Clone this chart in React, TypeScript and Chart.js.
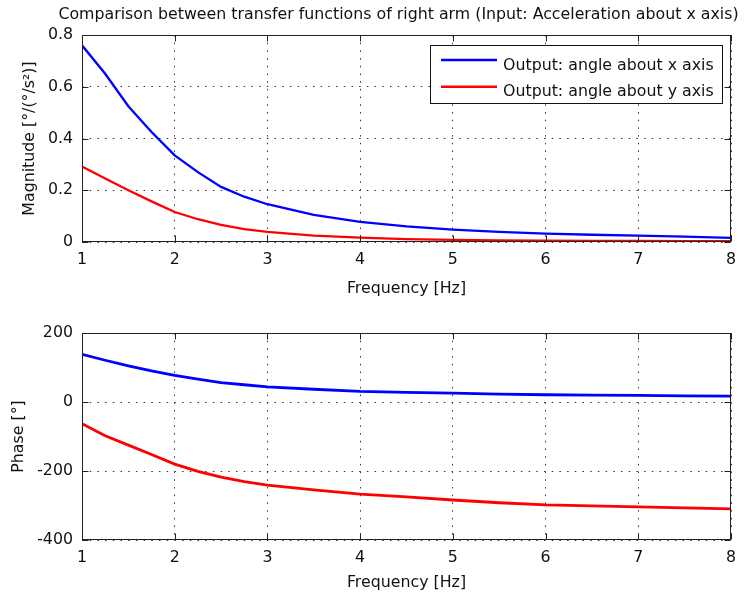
import React, { useEffect, useRef } from "react";
import { Chart, registerables } from "chart.js";

Chart.register(...registerables);

// ---- data ----
const FREQ = [1, 1.25, 1.5, 1.75, 2, 2.25, 2.5, 2.75, 3, 3.5, 4, 4.5, 5, 5.5, 6, 6.5, 7, 7.5, 8];
const MAG_X = [0.76, 0.65, 0.525, 0.425, 0.335, 0.27, 0.213, 0.175, 0.146, 0.105, 0.078, 0.06, 0.048, 0.039, 0.032, 0.028, 0.025, 0.021, 0.016];
const MAG_Y = [0.292, 0.245, 0.2, 0.157, 0.116, 0.088, 0.066, 0.05, 0.039, 0.025, 0.017, 0.011, 0.008, 0.006, 0.005, 0.004, 0.004, 0.003, 0.003];
const PHASE_X = [138, 121, 105, 90, 77, 66, 56, 50, 44, 37, 31, 28, 26, 23, 21, 20, 19, 18, 17];
const PHASE_Y = [-63, -98, -125, -152, -180, -201, -218, -231, -241, -255, -267, -275, -284, -292, -298, -301, -304, -307, -310];

const X_TICKS = [1, 2, 3, 4, 5, 6, 7, 8];
const MAG_TICKS = [0, 0.2, 0.4, 0.6, 0.8];
const PHASE_TICKS = [-400, -200, 0, 200];

const TITLE = "Comparison between transfer functions of right arm (Input: Acceleration about x axis)";
const X_TITLE = "Frequency [Hz]";
const MAG_TITLE = "Magnitude [°/(°/s²)]";
const PHASE_TITLE = "Phase [°]";
const SERIES_LABELS = ["Output: angle about x axis", "Output: angle about y axis"];
const SERIES_COLORS = ["#0000ff", "#ff0000"];

const FAMILY = '"DejaVu Sans", sans-serif';
const FSIZE = 15.8;
const TEXT = "#111";

function makeBoxPlugin(id: string, xTicks: number[], yTicks: number[]) {
  return {
    id,
    afterDraw(chart: any) {
      const { ctx, chartArea } = chart;
      const xs = chart.scales.x;
      const ys = chart.scales.y;
      const L = Math.round(chartArea.left) + 0.5;
      const R = Math.round(chartArea.right) - 0.5;
      const T = Math.round(chartArea.top) + 0.5;
      const B = Math.round(chartArea.bottom) - 0.5;
      ctx.save();
      ctx.strokeStyle = "#222";
      ctx.lineWidth = 1;
      ctx.setLineDash([]);
      ctx.beginPath();
      const tl = 6;
      xTicks.forEach((v) => {
        const px = Math.round(xs.getPixelForValue(v)) + 0.5;
        ctx.moveTo(px, B);
        ctx.lineTo(px, B - tl);
        ctx.moveTo(px, T);
        ctx.lineTo(px, T + tl);
      });
      yTicks.forEach((v) => {
        const py = Math.round(ys.getPixelForValue(v)) + 0.5;
        ctx.moveTo(L, py);
        ctx.lineTo(L + tl, py);
        ctx.moveTo(R, py);
        ctx.lineTo(R - tl, py);
      });
      ctx.stroke();
      ctx.strokeRect(L, T, R - L, B - T);
      ctx.restore();
    },
  };
}

const titlePlugin = {
  id: "matlabTitle",
  afterDraw(chart: any) {
    const { ctx } = chart;
    ctx.save();
    ctx.fillStyle = TEXT;
    ctx.font = `${FSIZE}px ${FAMILY}`;
    ctx.textAlign = "center";
    ctx.textBaseline = "middle";
    ctx.fillText(TITLE, 398.5, 14.5);
    ctx.restore();
  },
};

const legendPlugin = {
  id: "matlabLegend",
  afterDraw(chart: any) {
    const { ctx } = chart;
    const bx = 430.5, by = 45.5, bw = 292, bh = 58;
    ctx.save();
    ctx.fillStyle = "#fff";
    ctx.fillRect(bx, by, bw, bh);
    ctx.strokeStyle = "#111";
    ctx.lineWidth = 1;
    ctx.strokeRect(bx, by, bw, bh);
    chart.data.datasets.forEach((ds: any, i: number) => {
      const ly = 60 + i * 26.7;
      ctx.strokeStyle = ds.borderColor;
      ctx.lineWidth = 2.5;
      ctx.beginPath();
      ctx.moveTo(441, ly);
      ctx.lineTo(497, ly);
      ctx.stroke();
      ctx.fillStyle = TEXT;
      ctx.font = `${FSIZE}px ${FAMILY}`;
      ctx.textAlign = "left";
      ctx.textBaseline = "alphabetic";
      ctx.fillText(ds.label, 503, 70 + i * 26);
    });
    ctx.restore();
  },
};

function buildConfig(p: {
  a: number[];
  b: number[];
  yMin: number;
  yMax: number;
  yTicks: number[];
  yTitle: string;
  yTitlePad: number;
  padTop: number;
  xHeight: number;
  xTitlePadBottom: number;
  width: number;
  plugins: any[];
}): any {
  const font = { family: FAMILY, size: FSIZE };
  const mk = (arr: number[], i: number) => ({
    label: SERIES_LABELS[i],
    data: FREQ.map((f, k) => ({ x: f, y: arr[k] })),
    borderColor: SERIES_COLORS[i],
    backgroundColor: SERIES_COLORS[i],
    borderWidth: p.width,
    pointRadius: 0,
    tension: 0,
    fill: false,
  });
  return {
    type: "line",
    data: { datasets: [mk(p.a, 0), mk(p.b, 1)] },
    options: {
      responsive: false,
      animation: false,
      events: [],
      layout: { padding: { top: p.padTop, right: 16, left: 0, bottom: 0 } },
      plugins: { legend: { display: false }, tooltip: { enabled: false }, title: { display: false } },
      scales: {
        x: {
          type: "linear",
          min: 1,
          max: 8,
          afterBuildTicks: (s: any) => {
            s.ticks = X_TICKS.map((v) => ({ value: v }));
          },
          afterFit: (s: any) => {
            s.height = p.xHeight;
          },
          ticks: { font, color: TEXT, padding: 8, maxRotation: 0, autoSkip: false },
          grid: { color: "#333", lineWidth: 1, drawTicks: false, borderDash: [1.5, 6.2] },
          border: { display: false, dash: [1.5, 6.2] },
          title: { display: true, text: X_TITLE, font, color: TEXT, padding: { top: 0, bottom: p.xTitlePadBottom } },
        },
        y: {
          type: "linear",
          min: p.yMin,
          max: p.yMax,
          afterBuildTicks: (s: any) => {
            s.ticks = p.yTicks.map((v) => ({ value: v }));
          },
          afterFit: (s: any) => {
            s.width = 82;
          },
          ticks: { font, color: TEXT, padding: 9, autoSkip: false },
          grid: { color: "#333", lineWidth: 1, drawTicks: false, borderDash: [1.5, 6.2] },
          border: { display: false, dash: [1.5, 6.2] },
          title: { display: true, text: p.yTitle, font, color: TEXT, padding: { top: p.yTitlePad, bottom: 0 } },
        },
      },
    },
    plugins: p.plugins,
  };
}

export default function App() {
  const topRef = useRef<HTMLCanvasElement>(null);
  const botRef = useRef<HTMLCanvasElement>(null);

  useEffect(() => {
    const top = new Chart(
      topRef.current as HTMLCanvasElement,
      buildConfig({
        a: MAG_X,
        b: MAG_Y,
        yMin: 0,
        yMax: 0.8,
        yTicks: MAG_TICKS,
        yTitle: MAG_TITLE,
        yTitlePad: 20.5,
        padTop: 35,
        xHeight: 58,
        xTitlePadBottom: 1.5,
        width: 2.3,
        plugins: [makeBoxPlugin("boxTop", X_TICKS, MAG_TICKS), titlePlugin, legendPlugin],
      })
    );
    const bot = new Chart(
      botRef.current as HTMLCanvasElement,
      buildConfig({
        a: PHASE_X,
        b: PHASE_Y,
        yMin: -400,
        yMax: 200,
        yTicks: PHASE_TICKS,
        yTitle: PHASE_TITLE,
        yTitlePad: 9.5,
        padTop: 33,
        xHeight: 61,
        xTitlePadBottom: 8.5,
        width: 2.8,
        plugins: [makeBoxPlugin("boxBot", X_TICKS, PHASE_TICKS)],
      })
    );
    return () => {
      top.destroy();
      bot.destroy();
    };
  }, []);

  return (
    <div style={{ position: "absolute", left: 0, top: 0, width: 747, height: 601, background: "#fff" }}>
      <canvas ref={topRef} width={747} height={300} style={{ position: "absolute", left: 0, top: 0, display: "block" }} />
      <canvas ref={botRef} width={747} height={301} style={{ position: "absolute", left: 0, top: 300, display: "block" }} />
    </div>
  );
}
